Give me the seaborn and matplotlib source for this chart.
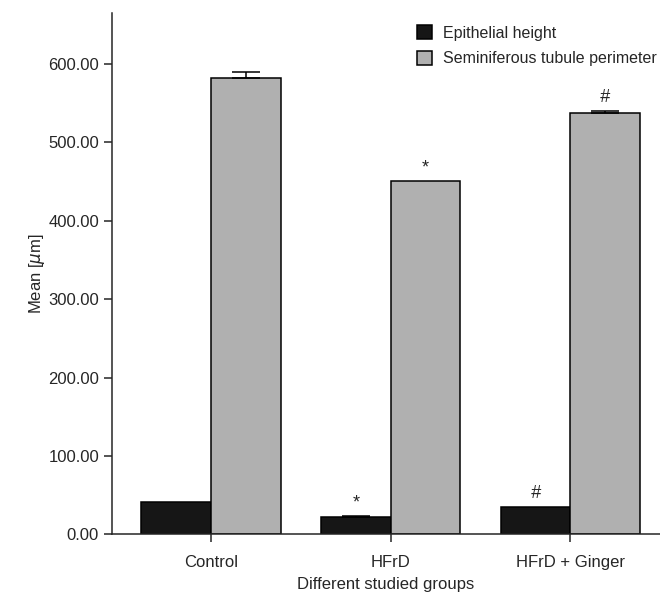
import numpy as np
import pandas as pd
import matplotlib
matplotlib.use("Agg")
import matplotlib.pyplot as plt
import seaborn as sns

groups = ["Control", "HFrD", "HFrD + Ginger"]
series = ["Epithelial height", "Seminiferous tubule perimeter"]
epithelial = [41.0, 21.5, 35.0]
perimeter = [582.0, 451.0, 537.5]
epithelial_err = [0.0, 2.0, 0.0]
perimeter_err = [8.0, 0.0, 2.5]
epithelial_marks = ["", "*", "#"]
perimeter_marks = ["", "*", "#"]

sns.set_style("ticks")
plt.rcParams["font.family"] = ["Liberation Sans Narrow", "Liberation Sans", "DejaVu Sans"]

df = pd.DataFrame({
    "group": groups * 2,
    "series": [series[0]] * 3 + [series[1]] * 3,
    "value": epithelial + perimeter,
})

fig, ax = plt.subplots(figsize=(6.6, 5.97), dpi=100)
sns.barplot(data=df, x="group", y="value", hue="series", order=groups,
            hue_order=series, palette=["#161616", "#b0b0b0"], width=0.775,
            edgecolor="black", linewidth=1.1, errorbar=None, ax=ax)

# error bars (upper only) and significance marks, placed on the drawn bars
errs = epithelial_err + perimeter_err
marks = epithelial_marks + perimeter_marks
for bar, e, m in zip(ax.patches[:6], errs, marks):
    xc = bar.get_x() + bar.get_width() / 2
    top = bar.get_height()
    if e > 0:
        ax.errorbar(xc, top, yerr=[[0], [e]], fmt="none", ecolor="black",
                    elinewidth=1.1, capsize=10, capthick=1.1)
    if m:
        ax.text(xc, top + e + 6, m, ha="center", va="bottom", fontsize=13,
                style="italic" if m == "#" else "normal")

ax.set_xlim(-0.55, 2.5)
ax.set_ylim(0, 665)
ax.set_yticks(np.arange(0, 601, 100))
ax.set_yticklabels([f"{v:.2f}" for v in np.arange(0, 601, 100)])
ax.tick_params(labelsize=12, length=6, width=1.1)
ax.tick_params(axis="x", pad=9)
ax.set_xlabel("Different studied groups", fontsize=12, labelpad=5)
ax.set_ylabel(r"Mean [$\mu$m]", fontsize=12, labelpad=1)
for s in ["left", "bottom"]:
    ax.spines[s].set_linewidth(1.1)
sns.despine(ax=ax)

ax.legend(loc="upper right", bbox_to_anchor=(1.012, 0.995), frameon=False,
          fontsize=11.5, handlelength=0.95, handleheight=0.95, handletextpad=0.7,
          borderaxespad=0.2, labelspacing=0.65)

plt.subplots_adjust(left=0.17, right=1.0, bottom=0.105, top=0.978)
fig.savefig("out.png", dpi=100)
